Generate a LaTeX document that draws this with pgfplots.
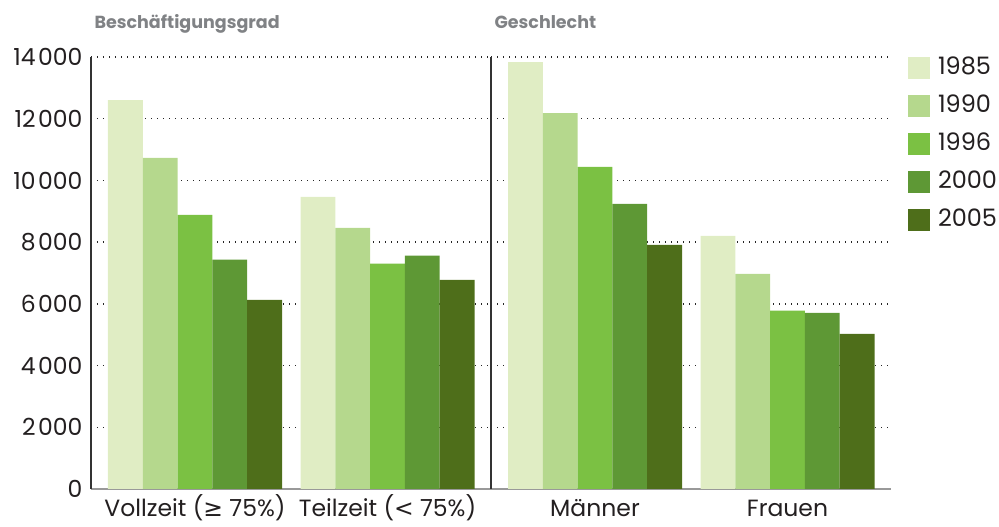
\documentclass[border=0pt]{standalone}
\usepackage{pgfplots}
\pgfplotsset{compat=1.18}
\usepackage{fontspec}
\setmainfont{Poppins}
\newfontfamily\symfont{DejaVu Sans}
\definecolor{cA}{HTML}{E0EDC4}
\definecolor{cB}{HTML}{B5D88D}
\definecolor{cC}{HTML}{7BC143}
\definecolor{cD}{HTML}{5E9835}
\definecolor{cE}{HTML}{4E6E1A}
\definecolor{txt}{HTML}{231F20}
\definecolor{ttl}{HTML}{808285}
\pgfplotsset{
  base/.style={
    scale only axis, width=400pt, height=432pt,
    ymin=0, ymax=14000,
    xmin=-0.5403, xmax=1.5376,
    ytick={0,2000,...,14000},
    scaled y ticks=false,
    xtick={0,1},
    major tick length=0pt,
    ymajorgrids,
    grid style={black!85, line width=1.4pt, dash pattern=on 1.2pt off 4.8pt},
    separate axis lines,
    axis x line*=bottom, axis y line*=left,
    x axis line style={-, color=black!40, line width=2pt},
    y axis line style={-, color=black!80, line width=1.3pt},
    ybar=0pt, bar width=0.1808,
    tick label style={font=\fontsize{23.5}{23.5}\selectfont, color=txt},
    /pgf/number format/assume math mode=true,
    /pgf/number format/1000 sep={\kern2.5pt},
    xticklabel style={yshift=-7pt, text height=17pt, text depth=4pt,
      font=\fontsize{23.5}{23.5}\selectfont},
    title style={at={(0,1)}, anchor=base west, yshift=22pt, xshift=0pt,
      font=\fontsize{17.5}{17.5}\selectfont\bfseries, color=ttl},
  },
  sA/.style={fill=cA, draw=none, bar shift=-0.3616},
  sB/.style={fill=cB, draw=none, bar shift=-0.1808},
  sC/.style={fill=cC, draw=none, bar shift=0},
  sD/.style={fill=cD, draw=none, bar shift=0.1808},
  sE/.style={fill=cE, draw=none, bar shift=0.3616},
}
\begin{document}
\begin{tikzpicture}
\useasboundingbox (0pt,0pt) rectangle (999pt,527pt);
\begin{axis}[base, at={(91pt,38pt)}, anchor=south west,
  title={Beschäftigungsgrad},
  yticklabel style={xshift=-5pt},
  xticklabels={Vollzeit ({\symfont ≥} 75\%), Teilzeit ({\symfont <} 75\%)}]
\addplot[sA] coordinates {(0,12600) (1,9470)};
\addplot[sB] coordinates {(0,10730) (1,8460)};
\addplot[sC] coordinates {(0,8880) (1,7300)};
\addplot[sD] coordinates {(0,7430) (1,7560)};
\addplot[sE] coordinates {(0,6130) (1,6780)};
\end{axis}
\begin{axis}[base, at={(491pt,38pt)}, anchor=south west,
  title={Geschlecht},
  yticklabels={},
  xticklabels={Männer, Frauen},
  legend style={at={(1.0425,1.0)}, anchor=north west, draw=none, fill=none,
    inner sep=0pt, outer sep=0pt, row sep=16pt,
    font=\fontsize{24}{24}\selectfont, text=txt,
    nodes={inner sep=0pt, text height=18pt, text depth=4pt}},
  legend cell align=left,
  legend image code/.code={\fill[#1] (0pt,-11pt) rectangle (22pt,11pt);},
  /tikz/every odd column/.append style={column sep=8pt},
  ]
\addplot[sA] coordinates {(0,13830) (1,8200)};
\addplot[sB] coordinates {(0,12180) (1,6970)};
\addplot[sC] coordinates {(0,10440) (1,5780)};
\addplot[sD] coordinates {(0,9240) (1,5710)};
\addplot[sE] coordinates {(0,7910) (1,5030)};
\legend{1985,1990,1996,2000,2005}
\end{axis}
\end{tikzpicture}
\end{document}
